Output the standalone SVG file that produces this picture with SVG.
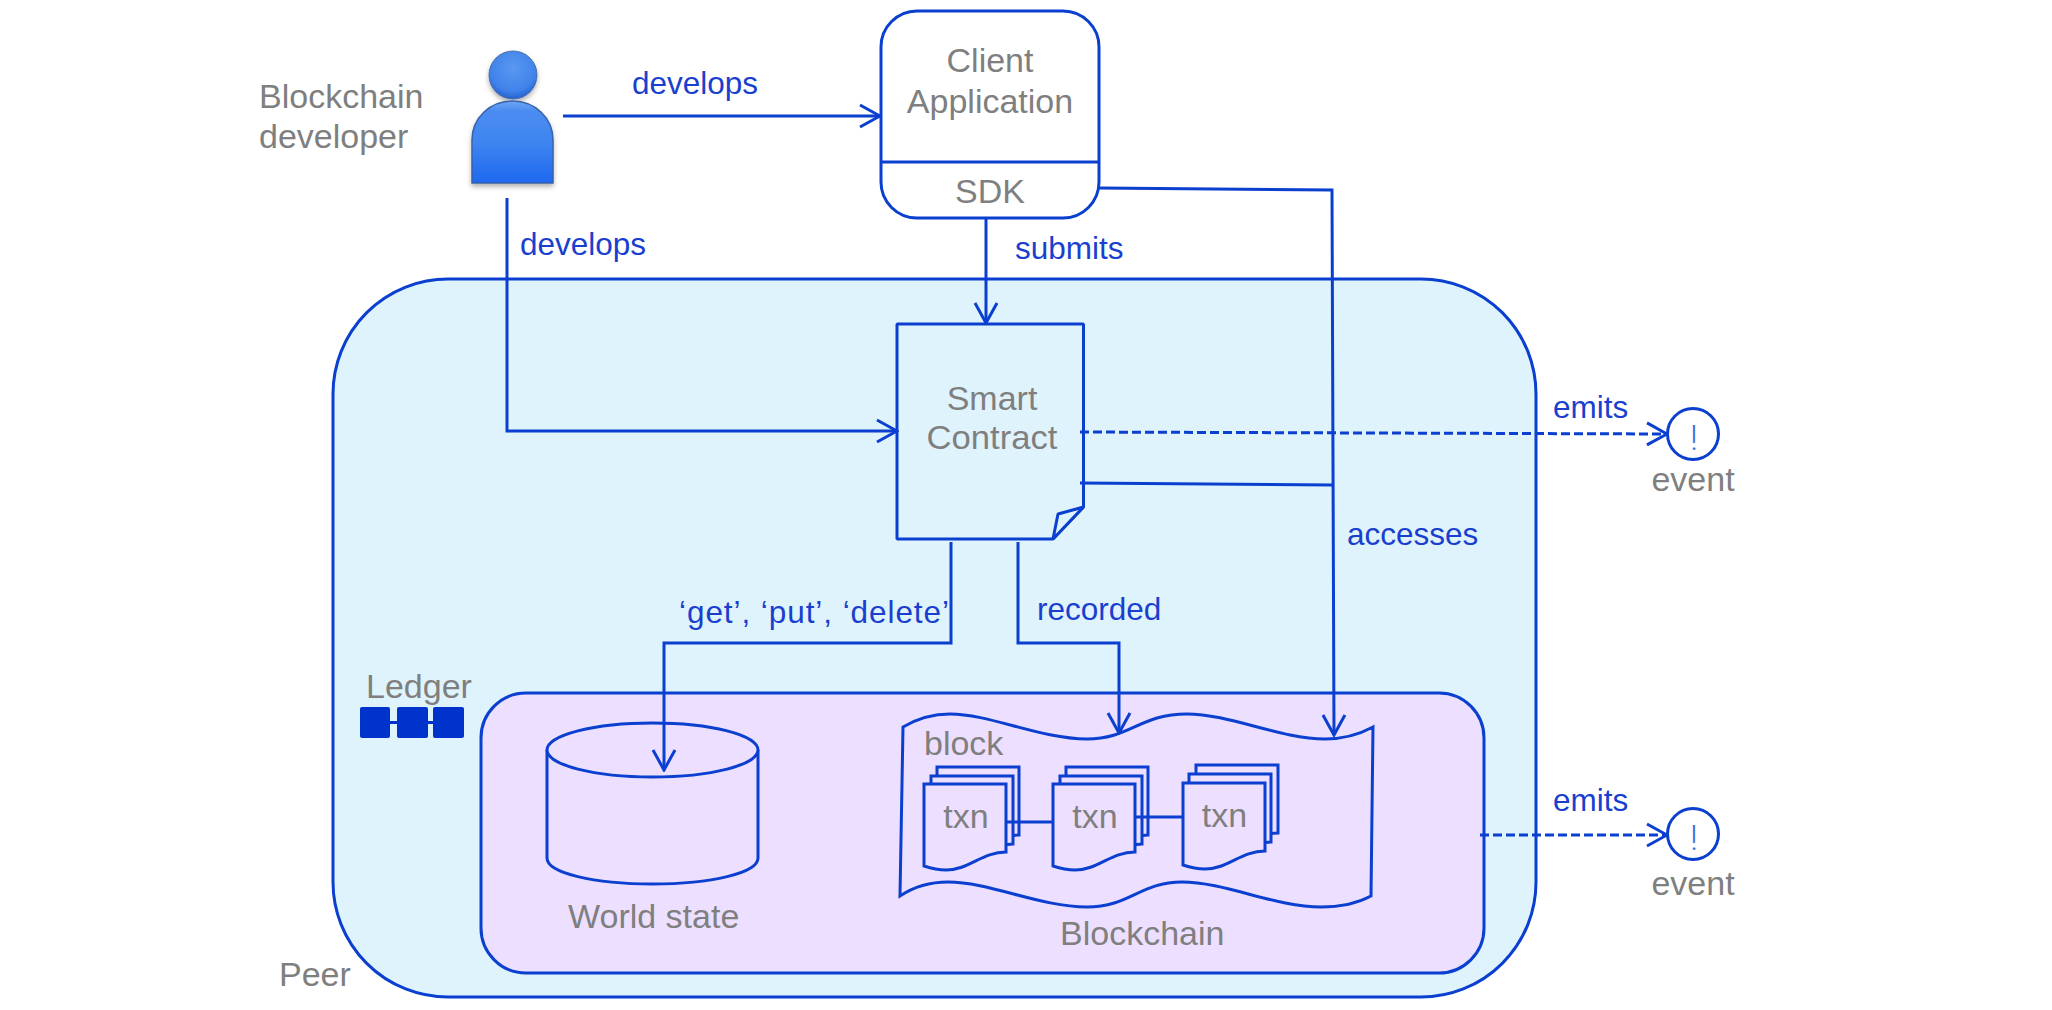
<svg xmlns="http://www.w3.org/2000/svg" width="2052" height="1010" viewBox="0 0 2052 1010">
<style>
text{font-family:"Liberation Sans",Arial,sans-serif;font-size:34px;fill:#7f7f7f}
.m{text-anchor:middle}
.l{font-size:31.5px;fill:#1a3fcf}
.x{font-family:Roboto,"Liberation Sans",sans-serif;font-weight:300;font-size:35px;fill:#3a78d8}
.s{fill:none;stroke:#0a3fcf;stroke-width:3}
.d{fill:#eddfff;stroke:#0a3fcf;stroke-width:3}
.c{fill:none;stroke:#0a3fcf;stroke-width:3}
.dash{stroke-dasharray:9 4}
.w{fill:#fff;stroke:#0a3fcf;stroke-width:3}
</style>
<defs>
<marker id="arrow" markerUnits="userSpaceOnUse" viewBox="-23 -13 25 26" refX="0" refY="0" markerWidth="25" markerHeight="26" orient="auto"><path d="M-20-11L0 0L-20 11" fill="none" stroke="#0a3fcf" stroke-width="3"/></marker>
<linearGradient id="body" x1="0" y1="0" x2="0" y2="1"><stop offset="0" stop-color="#6ea6f5"/><stop offset="0.12" stop-color="#4a8cf0"/><stop offset="0.5" stop-color="#3f85f0"/><stop offset="1" stop-color="#1e68f0"/></linearGradient>
<radialGradient id="head" cx="0.5" cy="0.35" r="0.65"><stop offset="0" stop-color="#5a98f2"/><stop offset="0.75" stop-color="#3f82ea"/><stop offset="1" stop-color="#2660cc"/></radialGradient>
<filter id="sh" x="-20%" y="-20%" width="140%" height="140%"><feDropShadow dx="0" dy="3" stdDeviation="2.500" flood-color="#000" flood-opacity="0.3"/></filter>
<path id="doc" d="M0 0H82V68C58 68 45 86 22 86C12 86 6 84 0 82Z"/>
</defs>

<g id="peer">
<rect x="333" y="279" width="1203" height="718" rx="115" ry="115" fill="#dff3fd" stroke="#0a3fcf" stroke-width="3"/>
<text x="279" y="986">Peer</text>
</g>

<g id="ledger">
<rect x="481" y="693" width="1003" height="280" rx="45" ry="45" class="d"/>
<text x="366" y="698">Ledger</text>
<g fill="#0033cc">
<rect x="360" y="707" width="30" height="31" rx="2"/>
<rect x="397" y="707" width="31" height="31" rx="2"/>
<rect x="433" y="707" width="31" height="31" rx="2"/>
<rect x="388" y="721" width="50" height="3"/>
</g>
</g>

<g id="developer">
<text x="259" y="108">Blockchain</text>
<text x="259" y="148">developer</text>
<g filter="url(#sh)">
<path d="M472 183V140C472 118 490 101 512.500 101C535 101 553 118 553 140V183Z" fill="url(#body)" stroke="#3a62a8" stroke-width="1.500"/>
<circle cx="513" cy="75" r="24" fill="url(#head)" stroke="#4a6ea8" stroke-width="1"/>
</g>
</g>

<g id="client">
<rect x="881" y="11" width="218" height="207" rx="36" ry="36" class="w"/>
<path d="M881 162H1099" class="s"/>
<text x="990" y="72" class="m">Client</text>
<text x="990" y="113" class="m">Application</text>
<text x="990" y="203" class="m">SDK</text>
</g>

<g id="contract">
<path d="M897 324H1083.500V507L1053 539H897Z" fill="#dff3fd" stroke="#0a3fcf" stroke-width="3" stroke-linejoin="bevel"/>
<path d="M1083.500 507L1058 514L1053 539Z" fill="#dff3fd" stroke="#0a3fcf" stroke-width="3" stroke-linejoin="bevel"/>
<text x="992" y="410" class="m">Smart</text>
<text x="992" y="449" class="m" textLength="131" lengthAdjust="spacingAndGlyphs">Contract</text>
</g>

<g id="world-state">
<path d="M547 750V858C547 873 594 884 652.500 884C711 884 758 873 758 858V750" class="d"/>
<ellipse cx="652.500" cy="750" rx="105.500" ry="27" class="d"/>
<text x="568" y="928">World state</text>
</g>

<g id="blockchain">
<path d="M903 727C920 717 935 714 950 714C990 714 1040 739 1087 739C1130 739 1140 714 1187 714C1230 714 1280 739 1325 739C1345 739 1360 734 1373 727L1371 896C1358 903 1340 907 1321 907C1275 907 1225 882 1182 882C1140 882 1130 907 1087 907C1040 907 990 882 948 882C930 882 915 886 900 896Z" class="d"/>
<text x="924" y="755">block</text>
<text x="1060" y="945">Blockchain</text>
</g>

<g id="txn1">
<use href="#doc" x="937" y="767" class="d"/>
<use href="#doc" x="931" y="776" class="d"/>
<use href="#doc" x="924" y="784" class="d"/>
<text x="966" y="828" class="m">txn</text>
</g>
<g id="txn2">
<use href="#doc" x="1066" y="767" class="d"/>
<use href="#doc" x="1060" y="776" class="d"/>
<use href="#doc" x="1053" y="784" class="d"/>
<text x="1095" y="828" class="m">txn</text>
</g>
<g id="txn3">
<use href="#doc" x="1196" y="765" class="d"/>
<use href="#doc" x="1189" y="774" class="d"/>
<use href="#doc" x="1183" y="783" class="d"/>
<text x="1224.500" y="827" class="m">txn</text>
</g>

<g id="event1">
<circle cx="1693" cy="434" r="25.500" class="w"/>
<text x="1694" y="450" class="m x">!</text>
<text x="1693" y="491" class="m">event</text>
</g>
<g id="event2">
<circle cx="1693" cy="834" r="25.500" class="w"/>
<text x="1694" y="850" class="m x">!</text>
<text x="1693" y="895" class="m">event</text>
</g>

<g id="connectors">
<path d="M563 116H880" class="c" marker-end="url(#arrow)"/>
<path d="M507 198V431H897" class="c" marker-end="url(#arrow)"/>
<path d="M986 218V323" class="c" marker-end="url(#arrow)"/>
<path d="M1099 188L1332 190L1334 735" class="c" marker-end="url(#arrow)"/>
<path d="M1080 483L1332 485" class="c"/>
<path d="M1080 432L1667 434" class="c dash" marker-end="url(#arrow)"/>
<path d="M1480 835H1667" class="c dash" marker-end="url(#arrow)"/>
<path d="M951 542V643H664V770" class="c" marker-end="url(#arrow)"/>
<path d="M1018 542V643H1119V733" class="c" marker-end="url(#arrow)"/>
<path d="M1006 822H1053" class="c"/>
<path d="M1134 817H1183" class="c"/>
<text x="632" y="94" class="l">develops</text>
<text x="520" y="255" class="l">develops</text>
<text x="1015" y="259" class="l">submits</text>
<text x="1553" y="418" class="l">emits</text>
<text x="1553" y="811" class="l">emits</text>
<text x="1347" y="545" class="l">accesses</text>
<text x="1037" y="620" class="l">recorded</text>
<text x="679" y="623" class="l" textLength="270">‘get’, ‘put’, ‘delete’</text>
</g>
</svg>
